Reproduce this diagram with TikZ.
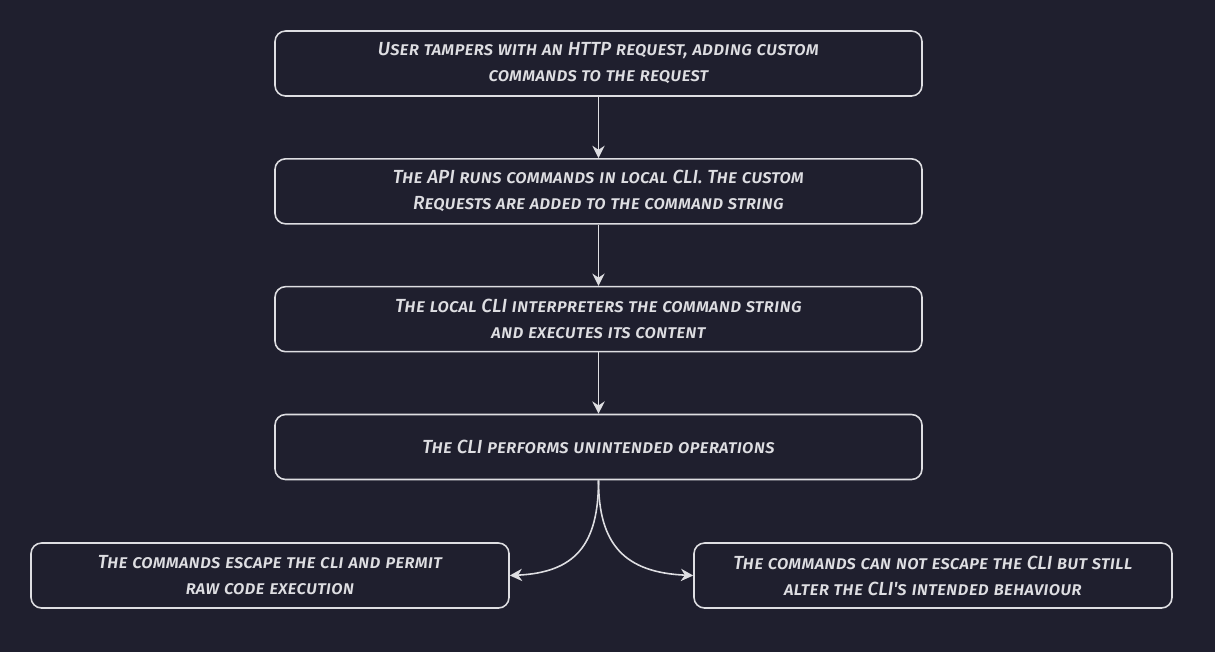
\documentclass[tikz,border=0pt]{standalone}
\usepackage{fontspec}
\newfontfamily\handfont{Fira Sans}[UprightFont=* Medium Italic, Letters=SmallCaps]
\usetikzlibrary{positioning,arrows.meta}

\definecolor{bgdark}{RGB}{31,31,46}
\definecolor{inkwhite}{RGB}{222,222,226}

\tikzset{
  stepbox/.style={draw=inkwhite, line width=0.9pt, rounded corners=6pt, fill=bgdark,
                  minimum width=12.94cm, minimum height=1.3cm, align=center,
                  text=inkwhite, font=\handfont\fontsize{10.8}{14.8}\selectfont},
  endbox/.style={stepbox, minimum width=9.56cm},
  flow/.style={draw=inkwhite, line width=0.9pt, -{Stealth[length=7pt,width=7pt]}}
}

\begin{document}
\begin{tikzpicture}
\fill[bgdark] (0,0) rectangle (24.3,-13.04);
\useasboundingbox (0,0) rectangle (24.3,-13.04);

\node [stepbox] at (11.97,-1.27) (tamper) {User tampers with an HTTP request, adding custom\\commands to the request};
\node [stepbox, below=1.225cm of tamper] (apirun) {The API runs commands in local CLI. The custom\\Requests are added to the command string};
\node [stepbox, below=1.225cm of apirun] (interp) {The local CLI interpreters the command string\\and executes its content};
\node [stepbox, below=1.225cm of interp] (perform) {The CLI performs unintended operations};
%
\node [endbox] at (5.4,-11.51) (escape) {The commands escape the cli and permit\\raw code execution};
\node [endbox] at (18.66,-11.51) (noescape) {The commands can not escape the CLI but still\\alter the CLI's intended behaviour};

\draw [flow] (tamper) -- (apirun);
\draw [flow] (apirun) -- (interp);
\draw [flow] (interp) -- (perform);

\draw [flow] (perform.south) .. controls (11.97,-10.9) and (11.5,-11.45) .. (escape.east);
\draw [flow] (perform.south) .. controls (11.97,-10.9) and (12.5,-11.45) .. (noescape.west);
\end{tikzpicture}
\end{document}
